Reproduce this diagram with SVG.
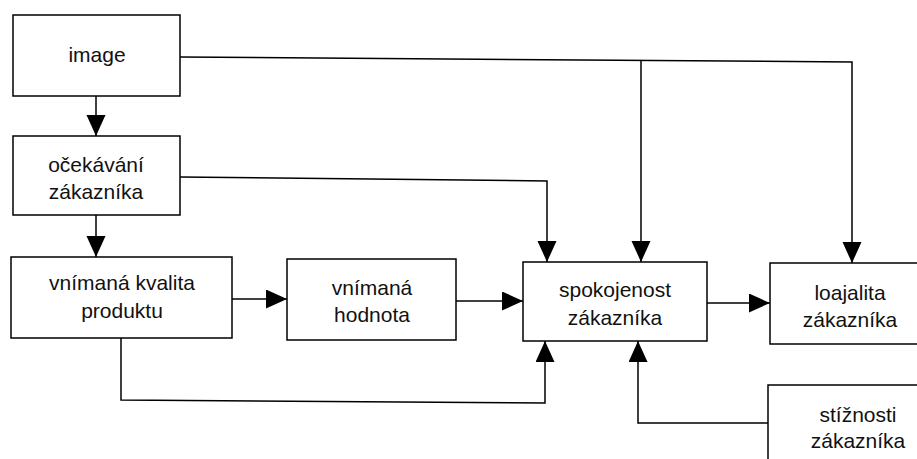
<svg xmlns="http://www.w3.org/2000/svg" width="917" height="459" viewBox="0 0 917 459">
<style>
.box{fill:#fff;stroke:#000;stroke-width:1.5}
.t{font-family:"Liberation Sans",Arial,sans-serif;font-size:21px;fill:#111;text-anchor:middle}
.c{fill:none;stroke:#000;stroke-width:1.5}
</style>
<defs>
<marker id="ah" markerUnits="userSpaceOnUse" markerWidth="22" markerHeight="20" refX="21" refY="9.5" orient="auto">
<path d="M0,0 L21,9.5 L0,19 z" fill="#000"/>
</marker>
</defs>
<rect width="917" height="459" fill="#fff"/>
<g id="connectors">
<path class="c" d="M180,57 L852,62 L852,263" marker-end="url(#ah)"/>
<path class="c" d="M641,60 L641,262" marker-end="url(#ah)"/>
<path class="c" d="M96,96 L96,136" marker-end="url(#ah)"/>
<path class="c" d="M180,177 L547,181 L547,262" marker-end="url(#ah)"/>
<path class="c" d="M96,215 L96,257" marker-end="url(#ah)"/>
<path class="c" d="M232,299 L287,299" marker-end="url(#ah)"/>
<path class="c" d="M456,301 L523,301" marker-end="url(#ah)"/>
<path class="c" d="M707,303 L770,303" marker-end="url(#ah)"/>
<path class="c" d="M121,338 L121,400 L545,403 L545,341" marker-end="url(#ah)"/>
<path class="c" d="M768,423 L638,423 L638,341" marker-end="url(#ah)"/>
</g>
<g id="image">
<rect class="box" x="13" y="15" width="167" height="81"/>
<text class="t" x="97" y="62">image</text>
</g>
<g id="ocekavani">
<rect class="box" x="13" y="136" width="167" height="79"/>
<text class="t" x="96" y="172">očekávání</text>
<text class="t" x="96" y="199">zákazníka</text>
</g>
<g id="kvalita">
<rect class="box" x="11" y="257" width="221" height="81"/>
<text class="t" x="122" y="290">vnímaná kvalita</text>
<text class="t" x="122" y="318">produktu</text>
</g>
<g id="hodnota">
<rect class="box" x="287" y="259" width="169" height="81"/>
<text class="t" x="372" y="295">vnímaná</text>
<text class="t" x="372" y="322">hodnota</text>
</g>
<g id="spokojenost">
<rect class="box" x="523" y="262" width="184" height="79"/>
<text class="t" x="615" y="297">spokojenost</text>
<text class="t" x="615" y="325">zákazníka</text>
</g>
<g id="loajalita">
<rect class="box" x="770" y="263" width="160" height="81"/>
<text class="t" x="850" y="300">loajalita</text>
<text class="t" x="850" y="327">zákazníka</text>
</g>
<g id="stiznosti">
<rect class="box" x="768" y="385" width="160" height="90"/>
<text class="t" x="858" y="422">stížnosti</text>
<text class="t" x="858" y="448">zákazníka</text>
</g>
</svg>
